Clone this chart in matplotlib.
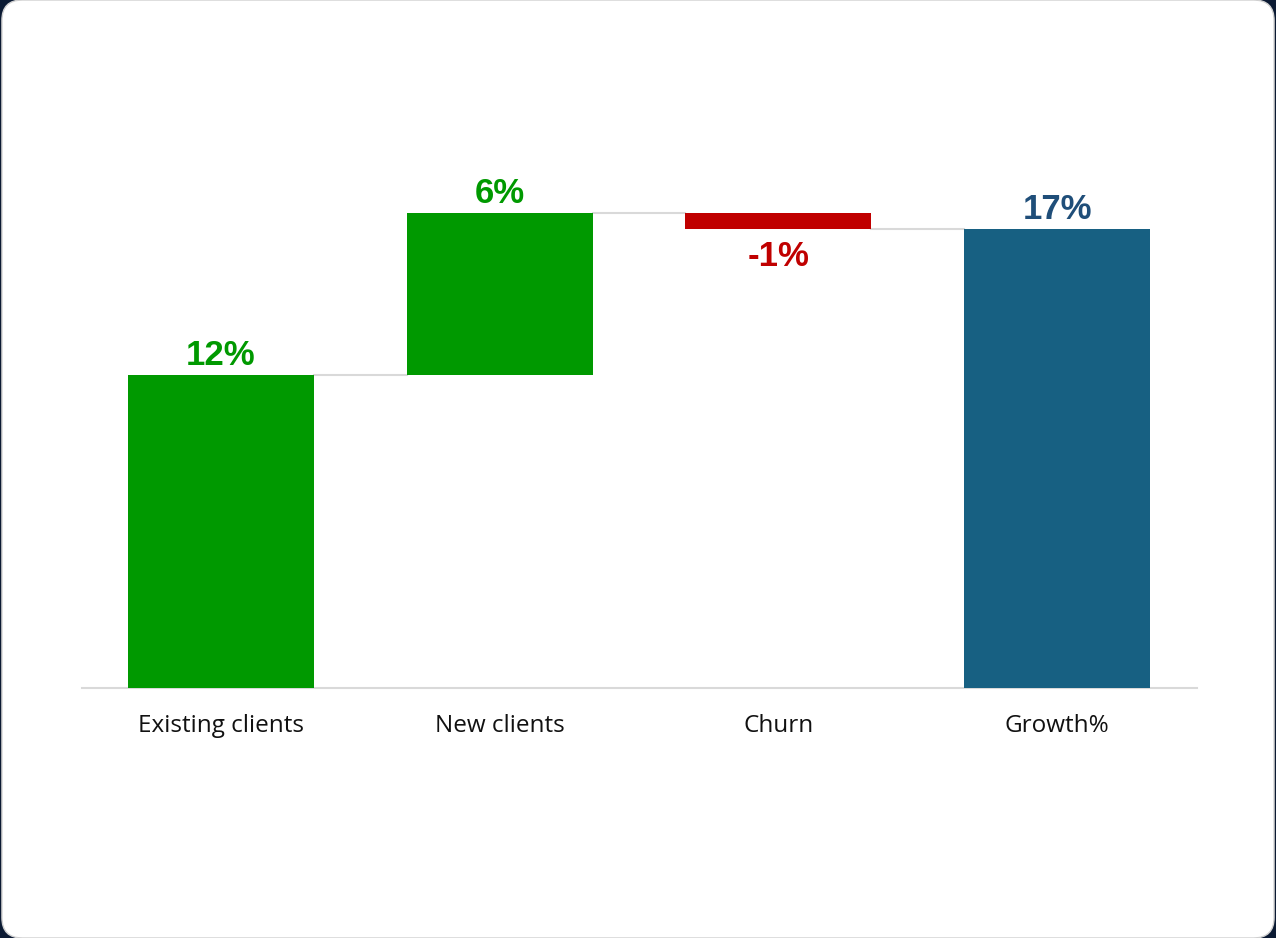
import matplotlib.pyplot as plt
from matplotlib.patches import FancyBboxPatch

# data
categories = ['Existing clients', 'New clients', 'Churn', 'Growth%']
values = [11.6, 6.0, -0.6, 17.0]
is_total = [False, False, False, True]

green = '#009900'
red = '#c00000'
blue = '#176082'
navy = '#1f4e79'
grid = '#d9d9d9'

fig = plt.figure(figsize=(12.76, 9.38), dpi=100)
fig.patch.set_facecolor('#0b1a33')
card = FancyBboxPatch((0.0015, 0.0), 0.997, 1.0, boxstyle='round,pad=0,rounding_size=0.016',
                      transform=fig.transFigure, facecolor='white', edgecolor='#d0d0d0',
                      linewidth=1.0, mutation_aspect=1276 / 938, zorder=-10)
fig.patches.append(card)

ax = fig.add_axes([81.5 / 1276, 250 / 938, 1115 / 1276, 540 / 938])
ax.set_facecolor('none')
ax.set_zorder(5)

# waterfall
bottoms = []
heights = []
colors = []
running = 0
for v, tot in zip(values, is_total):
    if tot:
        bottoms.append(0)
        heights.append(v)
        colors.append(blue)
        running = v
    else:
        if v >= 0:
            bottoms.append(running)
            colors.append(green)
        else:
            bottoms.append(running + v)
            colors.append(red)
        heights.append(abs(v))
        running += v

x = list(range(len(categories)))
w = 0.667
ax.bar(x, heights, bottom=bottoms, width=w, color=colors, zorder=3)

# connectors
level = 0
for i, (v, tot) in enumerate(zip(values, is_total)):
    level = v if tot else level + v
    if i < len(values) - 1:
        ax.plot([i + w / 2, i + 1 - w / 2], [level, level], color=grid, lw=1.5, zorder=2)

# labels
for i, (v, tot) in enumerate(zip(values, is_total)):
    txt = '{:.0f}%'.format(v)
    col = navy if tot else (green if v >= 0 else red)
    top = bottoms[i] + heights[i]
    if v >= 0:
        ax.annotate(txt, (i, top), xytext=(0, 2), textcoords='offset points',
                    ha='center', va='bottom', fontsize=25, fontweight='bold',
                    color=col, family='Liberation Sans')
    else:
        ax.annotate(txt, (i, bottoms[i]), xytext=(0, -8), textcoords='offset points',
                    ha='center', va='top', fontsize=25, fontweight='bold',
                    color=col, family='Liberation Sans')

ax.set_xlim(-0.5, 3.5)
ax.set_ylim(0, 20)
ax.set_yticks([])
ax.set_xticks(x)
ax.set_xticklabels(categories, fontsize=17.5, family='Open Sans', color='#111111')
ax.tick_params(axis='x', length=0, pad=19)
for s in ['top', 'right', 'left']:
    ax.spines[s].set_visible(False)
ax.spines['bottom'].set_color(grid)
ax.spines['bottom'].set_linewidth(1.5)

fig.savefig('out.png', dpi=100, facecolor=fig.get_facecolor())
